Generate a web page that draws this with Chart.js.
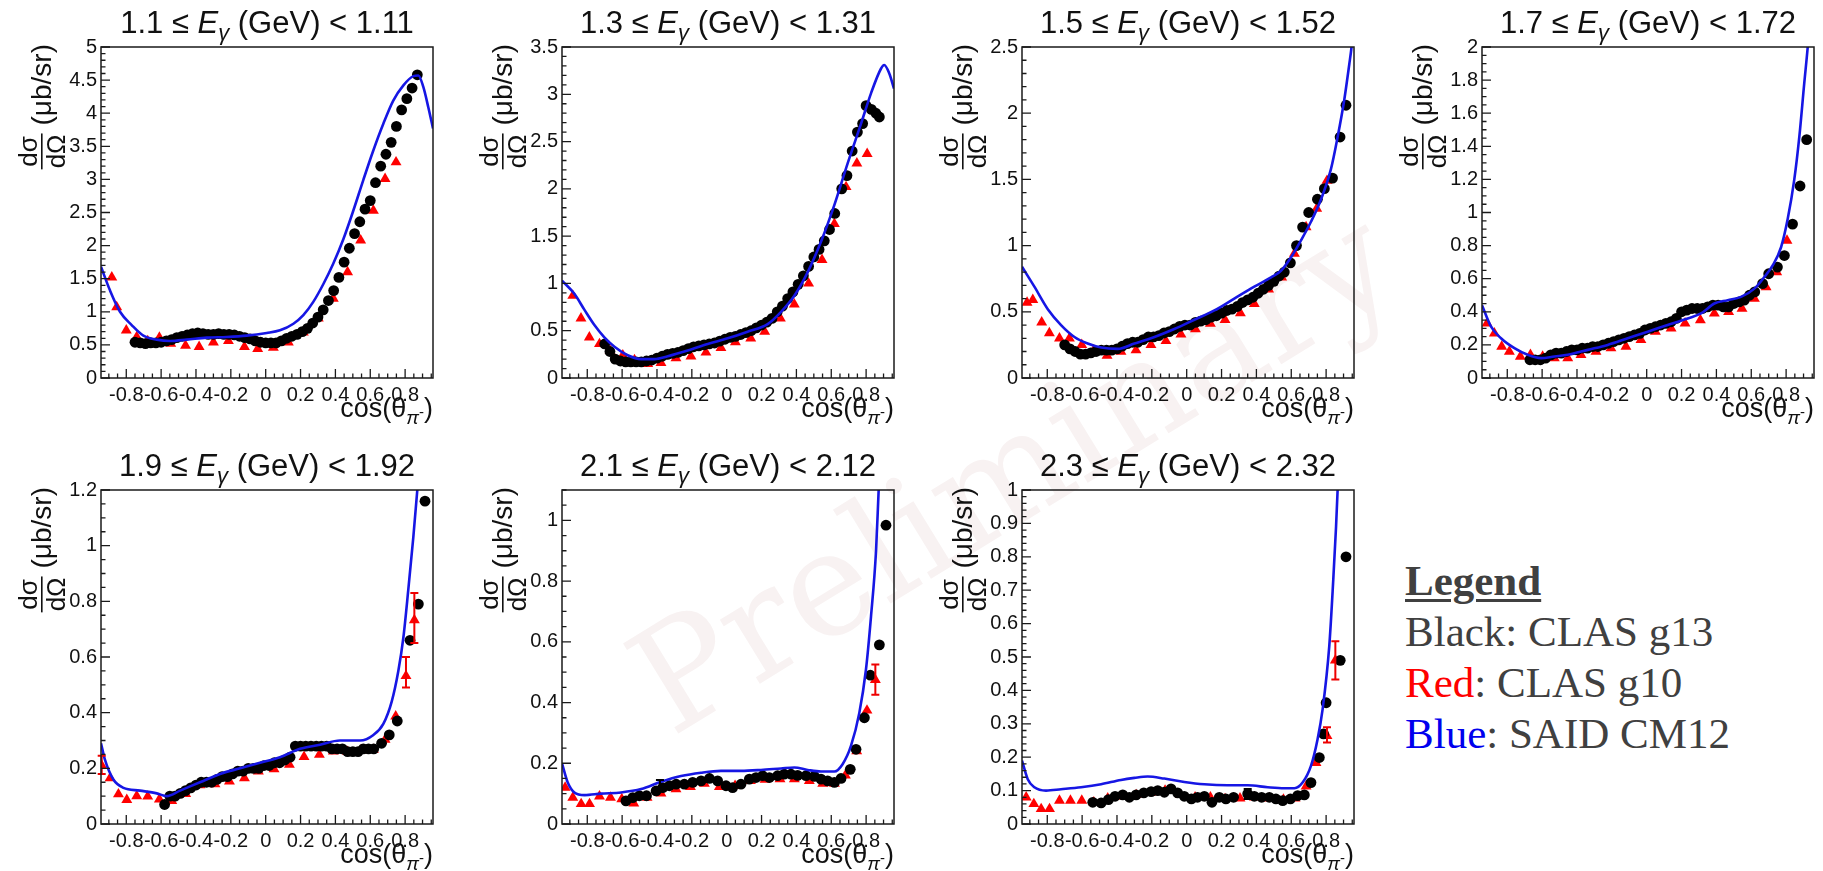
<!DOCTYPE html>
<html>
<head>
<meta charset="utf-8">
<title>pi- photoproduction cross sections</title>
<script src="https://cdn.jsdelivr.net/npm/chart.js@4.4.1/dist/chart.umd.min.js"></script>
<style>
  html, body { margin: 0; padding: 0; background: #fff; }
  body { width: 1823px; height: 871px; position: relative; overflow: hidden; }
  canvas.panel { position: absolute; }
  #watermark {
    position: absolute; left: 1012px; top: 470px;
    transform: translate(-50%, -50%) rotate(-31.5deg);
    font-family: 'DejaVu Serif', serif; font-size: 145px; color: #f8f2f2;
    white-space: nowrap; line-height: 1;
  }
  #legend {
    position: absolute; left: 1405px; top: 555px;
    font-family: 'Liberation Serif', 'Times New Roman', serif;
    font-size: 43px; line-height: 51px; color: #404040; white-space: nowrap;
  }
  #legend .head { font-weight: bold; text-decoration: underline; text-decoration-thickness: 3px; text-underline-offset: 4px; }
</style>
</head>
<body>
<div id="watermark">Preliminary</div>
<div id="legend">
  <div class="head">Legend</div>
  <div>Black: CLAS g13</div>
  <div><span style="color:#f00">Red</span>: CLAS g10</div>
  <div><span style="color:#0000ee">Blue</span>: SAID CM12</div>
</div>
<script>
/**
 * d(sigma)/d(Omega) vs cos(theta_pi-) for seven photon energy bins
 * CLAS g13 (black), CLAS g10 (red), SAID CM12 (blue curve)
 */

// Photon energy bin edges (GeV), one per panel
const energyBins = [
    ['1.1', '1.11'], ['1.3', '1.31'], ['1.5', '1.52'], ['1.7', '1.72'],
    ['1.9', '1.92'], ['2.1', '2.12'], ['2.3', '2.32']
];

// cos(theta) axis
const xMin = -0.945;
const xMax = 0.96;
const xTicks = [-0.8, -0.6, -0.4, -0.2, 0, 0.2, 0.4, 0.6, 0.8];

// y axes (ub/sr)
const yMaxes = [5, 3.5, 2.5, 2, 1.2, 1.1, 1];
const yTicks = [
    [0, 0.5, 1, 1.5, 2, 2.5, 3, 3.5, 4, 4.5, 5],
    [0, 0.5, 1, 1.5, 2, 2.5, 3, 3.5],
    [0, 0.5, 1, 1.5, 2, 2.5],
    [0, 0.2, 0.4, 0.6, 0.8, 1, 1.2, 1.4, 1.6, 1.8, 2],
    [0, 0.2, 0.4, 0.6, 0.8, 1, 1.2],
    [0, 0.2, 0.4, 0.6, 0.8, 1],
    [0, 0.1, 0.2, 0.3, 0.4, 0.5, 0.6, 0.7, 0.8, 0.9, 1]
];
const yMinorSteps = [0.1, 0.1, 0.1, 0.05, 0.05, 0.05, 0.02];

// CLAS g13 points [cos, dsigma]
const g13_1 = [[-0.75,0.54],[-0.72,0.53],[-0.69,0.52],[-0.66,0.53],[-0.63,0.53],[-0.60,0.54],[-0.57,0.56],[-0.54,0.58],[-0.51,0.61],[-0.48,0.63],[-0.45,0.65],[-0.42,0.67],[-0.39,0.68],[-0.36,0.67],[-0.33,0.66],[-0.30,0.66],[-0.27,0.67],[-0.24,0.66],[-0.21,0.66],[-0.18,0.65],[-0.15,0.63],[-0.12,0.61],[-0.09,0.59],[-0.06,0.56],[-0.03,0.54],[0.00,0.53],[0.03,0.53],[0.06,0.53],[0.09,0.56],[0.12,0.60],[0.15,0.63],[0.18,0.66],[0.21,0.70],[0.24,0.75],[0.27,0.83],[0.30,0.92],[0.33,1.03],[0.36,1.17],[0.39,1.32],[0.42,1.52],[0.45,1.75],[0.48,1.96],[0.51,2.18],[0.54,2.36],[0.57,2.55],[0.60,2.68],[0.63,2.95],[0.66,3.20],[0.69,3.38],[0.72,3.56],[0.75,3.80],[0.78,4.05],[0.81,4.22],[0.84,4.38],[0.87,4.58]];
const g13_2 = [[-0.70,0.36],[-0.67,0.28],[-0.64,0.20],[-0.61,0.18],[-0.58,0.17],[-0.55,0.17],[-0.52,0.17],[-0.49,0.17],[-0.46,0.18],[-0.43,0.19],[-0.40,0.21],[-0.37,0.23],[-0.34,0.25],[-0.31,0.26],[-0.28,0.27],[-0.25,0.29],[-0.22,0.31],[-0.19,0.33],[-0.16,0.34],[-0.13,0.35],[-0.10,0.36],[-0.07,0.37],[-0.04,0.39],[-0.01,0.41],[0.02,0.43],[0.05,0.44],[0.08,0.46],[0.11,0.48],[0.14,0.50],[0.17,0.53],[0.20,0.56],[0.23,0.59],[0.26,0.63],[0.29,0.70],[0.32,0.76],[0.35,0.84],[0.38,0.91],[0.41,0.99],[0.44,1.08],[0.47,1.18],[0.50,1.28],[0.53,1.36],[0.56,1.45],[0.59,1.57],[0.62,1.74],[0.66,2.00],[0.69,2.14],[0.72,2.40],[0.75,2.60],[0.78,2.69],[0.80,2.88],[0.83,2.84],[0.856,2.80],[0.876,2.76]];
const g13_3 = [[-0.70,0.25],[-0.67,0.22],[-0.64,0.20],[-0.61,0.18],[-0.58,0.18],[-0.55,0.19],[-0.52,0.20],[-0.49,0.21],[-0.46,0.21],[-0.43,0.21],[-0.40,0.22],[-0.37,0.24],[-0.34,0.26],[-0.31,0.27],[-0.28,0.27],[-0.25,0.29],[-0.22,0.31],[-0.19,0.31],[-0.16,0.32],[-0.13,0.34],[-0.10,0.35],[-0.07,0.37],[-0.04,0.39],[-0.01,0.40],[0.02,0.40],[0.05,0.42],[0.08,0.43],[0.11,0.44],[0.14,0.46],[0.17,0.47],[0.20,0.49],[0.23,0.51],[0.26,0.52],[0.29,0.54],[0.32,0.57],[0.35,0.59],[0.38,0.61],[0.41,0.64],[0.44,0.67],[0.47,0.70],[0.50,0.73],[0.53,0.77],[0.56,0.80],[0.595,0.87],[0.63,1.00],[0.665,1.14],[0.70,1.25],[0.75,1.35],[0.79,1.43],[0.837,1.51],[0.88,1.82],[0.914,2.06]];
const g13_4 = [[-0.67,0.11],[-0.64,0.11],[-0.61,0.11],[-0.58,0.12],[-0.55,0.14],[-0.52,0.15],[-0.49,0.15],[-0.46,0.16],[-0.43,0.17],[-0.40,0.17],[-0.37,0.18],[-0.34,0.18],[-0.31,0.19],[-0.28,0.19],[-0.25,0.20],[-0.22,0.21],[-0.19,0.22],[-0.16,0.23],[-0.13,0.24],[-0.10,0.25],[-0.07,0.26],[-0.04,0.27],[-0.01,0.29],[0.02,0.30],[0.05,0.31],[0.08,0.32],[0.11,0.33],[0.14,0.34],[0.17,0.36],[0.20,0.40],[0.23,0.41],[0.26,0.42],[0.29,0.42],[0.32,0.42],[0.35,0.43],[0.38,0.44],[0.41,0.44],[0.44,0.43],[0.47,0.43],[0.50,0.45],[0.53,0.46],[0.56,0.47],[0.59,0.50],[0.62,0.52],[0.665,0.57],[0.70,0.63],[0.75,0.67],[0.79,0.74],[0.837,0.93],[0.88,1.16],[0.918,1.44]];
const g13_5 = [[-0.58,0.07],[-0.55,0.10],[-0.52,0.10],[-0.49,0.11],[-0.46,0.12],[-0.43,0.13],[-0.40,0.14],[-0.37,0.15],[-0.34,0.15],[-0.31,0.15],[-0.28,0.16],[-0.25,0.17],[-0.22,0.17],[-0.19,0.18],[-0.16,0.19],[-0.13,0.19],[-0.10,0.20],[-0.07,0.20],[-0.04,0.20],[-0.01,0.21],[0.02,0.21],[0.05,0.22],[0.08,0.22],[0.11,0.23],[0.14,0.24],[0.17,0.28],[0.20,0.28],[0.23,0.28],[0.26,0.28],[0.29,0.28],[0.32,0.28],[0.35,0.28],[0.38,0.27],[0.41,0.27],[0.44,0.27],[0.47,0.26],[0.50,0.26],[0.53,0.26],[0.56,0.27],[0.59,0.27],[0.62,0.27],[0.665,0.29],[0.709,0.32],[0.755,0.37],[0.828,0.66],[0.876,0.79],[0.914,1.16]];
const g13_6 = [[-0.578,0.076],[-0.539,0.087],[-0.501,0.093],[-0.46,0.093],[-0.405,0.109],[-0.367,0.12],[-0.329,0.126],[-0.29,0.131],[-0.243,0.131],[-0.195,0.137],[-0.147,0.142],[-0.099,0.15],[-0.052,0.142],[-0.004,0.126],[0.034,0.12],[0.082,0.131],[0.130,0.148],[0.168,0.153],[0.206,0.159],[0.245,0.153],[0.292,0.159],[0.33,0.164],[0.369,0.164],[0.407,0.16],[0.455,0.159],[0.503,0.157],[0.541,0.148],[0.579,0.142],[0.618,0.137],[0.656,0.15],[0.709,0.18],[0.742,0.246],[0.79,0.35],[0.824,0.49],[0.876,0.59],[0.914,0.984]];
const g13_7 = [[-0.539,0.065],[-0.491,0.063],[-0.449,0.073],[-0.411,0.083],[-0.367,0.087],[-0.329,0.08],[-0.29,0.087],[-0.246,0.093],[-0.204,0.097],[-0.166,0.10],[-0.128,0.095],[-0.090,0.105],[-0.052,0.093],[-0.014,0.083],[0.027,0.075],[0.062,0.08],[0.101,0.083],[0.145,0.065],[0.187,0.08],[0.225,0.075],[0.269,0.08],[0.35,0.09],[0.388,0.083],[0.43,0.08],[0.474,0.08],[0.512,0.075],[0.551,0.07],[0.595,0.075],[0.637,0.085],[0.675,0.087],[0.713,0.124],[0.761,0.199],[0.785,0.27],[0.80,0.363],[0.881,0.49],[0.914,0.80]];

// CLAS g10 points [cos, dsigma]
const g10_1 = [[-0.883,1.52],[-0.855,1.07],[-0.80,0.72],[-0.74,0.62],[-0.677,0.56],[-0.61,0.61],[-0.545,0.52],[-0.46,0.49],[-0.382,0.47],[-0.30,0.54],[-0.214,0.56],[-0.122,0.47],[-0.046,0.44],[0.044,0.46],[0.13,0.54],[0.216,0.69],[0.302,0.90],[0.388,1.20],[0.47,1.60],[0.545,2.08],[0.618,2.53],[0.685,3.01],[0.748,3.26]];
const g10_2 = [[-0.883,0.87],[-0.836,0.63],[-0.788,0.43],[-0.730,0.36],[-0.669,0.29],[-0.596,0.24],[-0.529,0.19],[-0.453,0.15],[-0.377,0.16],[-0.291,0.21],[-0.205,0.23],[-0.119,0.27],[-0.033,0.32],[0.050,0.38],[0.138,0.42],[0.218,0.49],[0.308,0.63],[0.388,0.78],[0.470,1.00],[0.547,1.25],[0.618,1.63],[0.685,2.02],[0.747,2.27],[0.806,2.37]];
const g10_3 = [[-0.916,0.57],[-0.883,0.59],[-0.832,0.42],[-0.788,0.34],[-0.730,0.30],[-0.673,0.30],[-0.602,0.25],[-0.533,0.21],[-0.457,0.17],[-0.377,0.20],[-0.291,0.21],[-0.205,0.25],[-0.119,0.28],[-0.033,0.33],[0.050,0.37],[0.136,0.41],[0.220,0.44],[0.308,0.49],[0.388,0.56],[0.470,0.67],[0.545,0.76],[0.618,0.94],[0.685,1.14],[0.746,1.28],[0.805,1.49]];
const g10_4 = [[-0.916,0.33],[-0.874,0.27],[-0.832,0.19],[-0.788,0.16],[-0.725,0.13],[-0.667,0.14],[-0.597,0.13],[-0.530,0.12],[-0.453,0.12],[-0.377,0.14],[-0.291,0.16],[-0.205,0.18],[-0.119,0.19],[-0.033,0.23],[0.050,0.28],[0.140,0.30],[0.220,0.33],[0.308,0.35],[0.388,0.39],[0.470,0.40],[0.547,0.42],[0.618,0.48],[0.685,0.55],[0.746,0.64],[0.805,0.83]];
const g10_5 = [[-0.941,0.21],[-0.893,0.165],[-0.845,0.107],[-0.797,0.087],[-0.740,0.10],[-0.677,0.099],[-0.610,0.089],[-0.539,0.083],[-0.459,0.108],[-0.377,0.14],[-0.291,0.143],[-0.208,0.153],[-0.122,0.165],[-0.042,0.189],[0.048,0.197],[0.136,0.213],[0.220,0.241],[0.308,0.249],[0.388,0.261],[0.470,0.259],[0.547,0.265],[0.618,0.267],[0.685,0.303],[0.746,0.387],[0.805,0.532],[0.853,0.733]];
const g10_6 = [[-0.927,0.12],[-0.883,0.087],[-0.835,0.066],[-0.787,0.066],[-0.730,0.091],[-0.667,0.087],[-0.602,0.082],[-0.533,0.068],[-0.457,0.087],[-0.377,0.101],[-0.291,0.115],[-0.208,0.122],[-0.128,0.133],[-0.042,0.122],[0.048,0.126],[0.136,0.142],[0.220,0.146],[0.306,0.148],[0.388,0.148],[0.474,0.142],[0.551,0.133],[0.618,0.133],[0.681,0.16],[0.746,0.24],[0.805,0.374],[0.853,0.475]];
const g10_7 = [[-0.921,0.08],[-0.877,0.06],[-0.835,0.045],[-0.787,0.045],[-0.730,0.07],[-0.667,0.07],[-0.602,0.07],[-0.533,0.065],[-0.453,0.077],[-0.373,0.083],[-0.29,0.087],[-0.208,0.093],[-0.124,0.10],[-0.036,0.087],[0.048,0.08],[0.136,0.08],[0.220,0.075],[0.306,0.077],[0.388,0.08],[0.474,0.077],[0.555,0.073],[0.622,0.077],[0.685,0.113],[0.742,0.183],[0.805,0.264],[0.853,0.49]];

// SAID CM12 curve [cos, dsigma]
const said_1 = [[-0.945,1.68],[-0.893,1.32],[-0.836,1.00],[-0.769,0.80],[-0.702,0.64],[-0.625,0.58],[-0.549,0.56],[-0.453,0.58],[-0.338,0.61],[-0.224,0.62],[-0.109,0.64],[0.006,0.68],[0.082,0.72],[0.159,0.82],[0.216,0.95],[0.273,1.15],[0.331,1.42],[0.388,1.73],[0.446,2.10],[0.503,2.53],[0.560,2.99],[0.618,3.44],[0.675,3.84],[0.732,4.19],[0.790,4.42],[0.847,4.56],[0.876,4.57],[0.904,4.40],[0.933,4.09],[0.96,3.77]];
const said_2 = [[-0.945,1.03],[-0.874,0.89],[-0.816,0.72],[-0.759,0.56],[-0.702,0.43],[-0.644,0.33],[-0.568,0.24],[-0.491,0.20],[-0.415,0.20],[-0.338,0.23],[-0.224,0.29],[-0.109,0.36],[0.006,0.42],[0.120,0.49],[0.235,0.57],[0.312,0.70],[0.388,0.87],[0.465,1.12],[0.541,1.44],[0.618,1.83],[0.694,2.27],[0.771,2.69],[0.828,3.01],[0.885,3.27],[0.904,3.31],[0.933,3.22],[0.96,3.06]];
const said_3 = [[-0.945,0.84],[-0.874,0.69],[-0.797,0.52],[-0.721,0.40],[-0.644,0.31],[-0.568,0.26],[-0.491,0.23],[-0.396,0.22],[-0.300,0.26],[-0.185,0.31],[-0.071,0.37],[0.044,0.44],[0.159,0.51],[0.273,0.60],[0.388,0.69],[0.484,0.76],[0.541,0.81],[0.598,0.91],[0.656,1.04],[0.713,1.18],[0.771,1.35],[0.828,1.58],[0.866,1.82],[0.904,2.10],[0.933,2.37],[0.946,2.50],[0.955,2.62]];
const said_4 = [[-0.945,0.44],[-0.893,0.31],[-0.836,0.24],[-0.759,0.18],[-0.683,0.14],[-0.606,0.12],[-0.530,0.13],[-0.453,0.14],[-0.338,0.17],[-0.224,0.20],[-0.109,0.24],[0.006,0.28],[0.120,0.32],[0.235,0.36],[0.312,0.39],[0.388,0.45],[0.465,0.47],[0.541,0.49],[0.618,0.54],[0.675,0.61],[0.723,0.68],[0.771,0.79],[0.809,0.96],[0.847,1.20],[0.876,1.46],[0.904,1.78],[0.924,2.00],[0.935,2.15]];
const said_5 = [[-0.945,0.29],[-0.922,0.23],[-0.874,0.16],[-0.816,0.13],[-0.721,0.12],[-0.625,0.11],[-0.568,0.10],[-0.491,0.12],[-0.377,0.15],[-0.262,0.18],[-0.147,0.20],[-0.033,0.22],[0.082,0.24],[0.197,0.27],[0.312,0.285],[0.426,0.30],[0.541,0.30],[0.618,0.32],[0.675,0.36],[0.723,0.44],[0.761,0.55],[0.790,0.67],[0.818,0.84],[0.847,1.03],[0.870,1.20],[0.88,1.28]];
const said_6 = [[-0.945,0.20],[-0.912,0.137],[-0.874,0.104],[-0.816,0.095],[-0.721,0.10],[-0.606,0.104],[-0.491,0.115],[-0.377,0.139],[-0.262,0.158],[-0.147,0.169],[-0.033,0.175],[0.082,0.175],[0.197,0.178],[0.312,0.183],[0.388,0.186],[0.465,0.178],[0.541,0.173],[0.618,0.173],[0.665,0.197],[0.713,0.257],[0.761,0.366],[0.799,0.508],[0.828,0.683],[0.857,0.90],[0.872,1.10],[0.88,1.2]];
const said_7 = [[-0.945,0.19],[-0.912,0.134],[-0.874,0.11],[-0.807,0.10],[-0.721,0.104],[-0.606,0.11],[-0.491,0.119],[-0.377,0.132],[-0.30,0.138],[-0.224,0.142],[-0.128,0.136],[-0.014,0.126],[0.101,0.119],[0.235,0.116],[0.35,0.116],[0.465,0.11],[0.56,0.107],[0.618,0.107],[0.665,0.124],[0.713,0.174],[0.751,0.254],[0.78,0.344],[0.818,0.532],[0.841,0.731],[0.857,0.89],[0.866,1.0],[0.872,1.08]];

// visible error bars [cos, low, high]
const g10Err = [[], [], [], [], [[-0.941,0.18,0.245],[0.805,0.49,0.60],[0.853,0.65,0.83]], [[0.853,0.426,0.525]], [[0.805,0.244,0.29],[0.853,0.433,0.547]]];
const g13Err = [[], [], [], [], [], [[-0.383,0.11,0.145]], [[0.35,0.075,0.105]]];

const g13 = [g13_1, g13_2, g13_3, g13_4, g13_5, g13_6, g13_7];
const g10 = [g10_1, g10_2, g10_3, g10_4, g10_5, g10_6, g10_7];
const said = [said_1, said_2, said_3, said_4, said_5, said_6, said_7];

// Layout (px)
const plotLefts = [101, 562, 1022, 1482];
const plotTops = [47, 490];
const plotHeights = [331, 334];
const PLOT_W = 332;
const PAD_LEFT = 100, PAD_TOP = 47, PAD_RIGHT = 12, PAD_BOTTOM = 52;

const FONT = '"Liberation Sans", Arial, Helvetica, sans-serif';
Chart.defaults.font.family = FONT;
Chart.defaults.color = '#111';

function fmt(v) {
    if (Math.abs(v) < 1e-9) return '0';
    return String(parseFloat(v.toFixed(2)));
}

function runFont(r) {
    return (r.it ? 'italic ' : '') + r.s + 'px ' + FONT;
}

function runsWidth(ctx, runs) {
    let w = 0;
    runs.forEach(r => { ctx.font = runFont(r); w += ctx.measureText(r.t).width; });
    return w;
}

function drawRuns(ctx, runs, x, y) {
    runs.forEach(r => {
        ctx.font = runFont(r);
        ctx.fillText(r.t, x, y + (r.dy || 0));
        x += ctx.measureText(r.t).width;
    });
}

/**
 * ROOT-style frame: box, inward ticks, error bars and titles
 */
const rootFrame = {
    id: 'rootFrame',
    afterDatasetsDraw(chart, args, opts) {
        const ctx = chart.ctx;
        const a = chart.chartArea;
        const xs = chart.scales.x, ys = chart.scales.y;
        ctx.save();

        // error bars
        const bars = (list, color) => {
            ctx.strokeStyle = color;
            ctx.lineWidth = 2;
            ctx.beginPath();
            list.forEach(e => {
                const px = xs.getPixelForValue(e[0]);
                const lo = ys.getPixelForValue(e[1]);
                const hi = ys.getPixelForValue(e[2]);
                ctx.moveTo(px, lo); ctx.lineTo(px, hi);
                ctx.moveTo(px - 4, lo); ctx.lineTo(px + 4, lo);
                ctx.moveTo(px - 4, hi); ctx.lineTo(px + 4, hi);
            });
            ctx.stroke();
        };
        bars(opts.redErr, '#e00');
        bars(opts.blackErr, '#000');

        // frame
        ctx.strokeStyle = '#1a1a1a';
        ctx.lineWidth = 1.5;
        ctx.strokeRect(a.left, a.top, a.right - a.left, a.bottom - a.top);

        // x ticks: major 0.2, minor 0.05
        ctx.lineWidth = 1.3;
        ctx.beginPath();
        for (let k = Math.ceil(xMin / 0.05); k * 0.05 <= xMax; k++) {
            const px = xs.getPixelForValue(k * 0.05);
            const len = (k % 4 === 0) ? 9 : 4.5;
            ctx.moveTo(px, a.bottom); ctx.lineTo(px, a.bottom - len);
        }
        // y ticks
        const ratio = Math.round(opts.yMajor / opts.yMinor);
        for (let k = 0; k * opts.yMinor <= opts.yMax + 1e-9; k++) {
            const py = ys.getPixelForValue(k * opts.yMinor);
            const len = (k % ratio === 0) ? 9 : 4.5;
            ctx.moveTo(a.left, py); ctx.lineTo(a.left + len, py);
        }
        ctx.stroke();
        ctx.restore();
    },
    afterDraw(chart, args, opts) {
        const ctx = chart.ctx;
        const a = chart.chartArea;
        ctx.save();
        ctx.fillStyle = '#111';
        ctx.textBaseline = 'alphabetic';
        ctx.textAlign = 'left';

        // panel title
        const title = [
            { t: opts.bin[0] + ' \u2264 ', s: 31 },
            { t: 'E', s: 31, it: true },
            { t: '\u03b3', s: 22, it: true, dy: 7 },
            { t: ' (GeV) < ' + opts.bin[1], s: 31 }
        ];
        const tw = runsWidth(ctx, title);
        drawRuns(ctx, title, (a.left + a.right) / 2 - tw / 2, a.top - 14);

        // x title
        const xt = [
            { t: 'cos(\u03b8', s: 27 },
            { t: '\u03c0', s: 19, it: true, dy: 7 },
            { t: '-', s: 15, dy: 0 },
            { t: ')', s: 27 }
        ];
        const xw = runsWidth(ctx, xt);
        drawRuns(ctx, xt, a.right - xw, a.bottom + 39);

        // y title, rotated
        ctx.translate(a.left - 50, a.top - 3);
        ctx.rotate(-Math.PI / 2);
        ctx.font = '28px ' + FONT;
        const unit = '(\u03bcb/sr)';
        const wu = ctx.measureText(unit).width;
        ctx.fillText(unit, -wu, 0);
        ctx.font = '26px ' + FONT;
        const wn = ctx.measureText('d\u03c3').width;
        const wd = ctx.measureText('d\u03a9').width;
        const fw = Math.max(wn, wd) + 2;
        const cx = -wu - 8 - fw / 2;
        ctx.fillText('d\u03c3', cx - wn / 2, -14);
        ctx.fillText('d\u03a9', cx - wd / 2, 14);
        ctx.fillRect(cx - fw / 2, -10, fw, 1.6);
        ctx.restore();
    }
};

function toXY(list) {
    return list.map(p => ({ x: p[0], y: p[1] }));
}

function makePanel(i) {
    const col = i % 4, row = Math.floor(i / 4);
    const h = plotHeights[row];
    const cv = document.createElement('canvas');
    cv.className = 'panel';
    cv.width = PAD_LEFT + PLOT_W + PAD_RIGHT;
    cv.height = PAD_TOP + h + PAD_BOTTOM;
    cv.style.left = (plotLefts[col] - PAD_LEFT) + 'px';
    cv.style.top = (plotTops[row] - PAD_TOP) + 'px';
    document.body.appendChild(cv);

    new Chart(cv.getContext('2d'), {
        type: 'scatter',
        data: {
            datasets: [
                {
                    label: 'SAID CM12',
                    data: toXY(said[i]),
                    showLine: true,
                    borderColor: '#1616e4',
                    borderWidth: 2.6,
                    pointRadius: 0,
                    fill: false,
                    cubicInterpolationMode: 'monotone',
                    order: 0
                },
                {
                    label: 'CLAS g13',
                    data: toXY(g13[i]),
                    pointStyle: 'circle',
                    pointRadius: 5.4,
                    backgroundColor: '#000',
                    borderColor: '#000',
                    borderWidth: 0,
                    order: 1
                },
                {
                    label: 'CLAS g10',
                    data: toXY(g10[i]),
                    pointStyle: 'triangle',
                    pointRadius: 6.3,
                    backgroundColor: '#f00',
                    borderColor: '#f00',
                    borderWidth: 0,
                    order: 2
                }
            ]
        },
        options: {
            responsive: false,
            animation: false,
            events: [],
            layout: { padding: { top: PAD_TOP, right: PAD_RIGHT, left: 0, bottom: 0 } },
            scales: {
                x: {
                    type: 'linear',
                    min: xMin,
                    max: xMax,
                    grid: { display: false, drawTicks: false },
                    border: { display: false },
                    afterBuildTicks: s => { s.ticks = xTicks.map(v => ({ value: v })); },
                    afterFit: s => { s.height = PAD_BOTTOM; },
                    ticks: {
                        padding: 5,
                        autoSkip: false,
                        maxRotation: 0,
                        font: { size: 20 },
                        callback: v => fmt(v)
                    }
                },
                y: {
                    type: 'linear',
                    min: 0,
                    max: yMaxes[i],
                    grid: { display: false, drawTicks: false },
                    border: { display: false },
                    afterBuildTicks: s => { s.ticks = yTicks[i].map(v => ({ value: v })); },
                    afterFit: s => { s.width = PAD_LEFT; },
                    ticks: {
                        padding: 4,
                        autoSkip: false,
                        font: { size: 20 },
                        callback: v => fmt(v)
                    }
                }
            },
            plugins: {
                legend: { display: false },
                tooltip: { enabled: false },
                rootFrame: {
                    bin: energyBins[i],
                    yMax: yMaxes[i],
                    yMajor: yTicks[i][1],
                    yMinor: yMinorSteps[i],
                    redErr: g10Err[i],
                    blackErr: g13Err[i]
                }
            }
        },
        plugins: [rootFrame]
    });
}

for (let i = 0; i < energyBins.length; i++) {
    makePanel(i);
}
</script>
</body>
</html>
